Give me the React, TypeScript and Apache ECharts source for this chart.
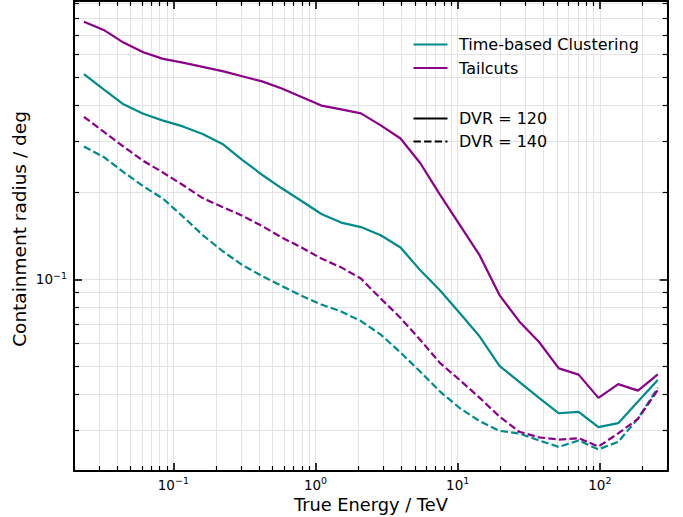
import React, { useEffect, useRef } from 'react';
import * as echarts from 'echarts';

// True energy bin centres (TeV)
const energy = [
  0.02348, 0.03234, 0.04457, 0.06141, 0.08461, 0.1166, 0.1606, 0.2213, 0.3049, 0.4201,
  0.5789, 0.7976, 1.099, 1.514, 2.086, 2.875, 3.961, 5.458, 7.52, 10.36,
  14.28, 19.67, 27.1, 37.35, 51.45, 70.9, 97.68, 134.6, 185.4, 255.5,
];

// Containment radius (deg)
const tbcDvr120 = [
  0.513, 0.454, 0.403, 0.374, 0.354, 0.338, 0.318, 0.294, 0.259, 0.23,
  0.2065, 0.1866, 0.1683, 0.1571, 0.1516, 0.142, 0.1288, 0.1074, 0.0915, 0.0763,
  0.0634, 0.0502, 0.0442, 0.0389, 0.0344, 0.0348, 0.0308, 0.0318, 0.0378, 0.0448,
];
const tailcutsDvr120 = [
  0.7785, 0.729, 0.659, 0.61, 0.579, 0.562, 0.543, 0.525, 0.504, 0.484,
  0.457, 0.427, 0.399, 0.387, 0.375, 0.341, 0.307, 0.252, 0.196, 0.154,
  0.121, 0.0882, 0.0715, 0.0607, 0.0492, 0.0468, 0.0389, 0.0434, 0.0412, 0.0469,
];
const tbcDvr140 = [
  0.288, 0.265, 0.235, 0.21, 0.19, 0.165, 0.1423, 0.1253, 0.1121, 0.1027,
  0.0948, 0.0877, 0.0818, 0.0774, 0.0717, 0.0644, 0.0558, 0.0479, 0.0409, 0.0358,
  0.0323, 0.0299, 0.0293, 0.0277, 0.0263, 0.0277, 0.0258, 0.0274, 0.033, 0.0421,
];
const tailcutsDvr140 = [
  0.365, 0.324, 0.288, 0.257, 0.234, 0.212, 0.191, 0.178, 0.166, 0.153,
  0.1395, 0.1288, 0.118, 0.11, 0.1006, 0.0858, 0.0735, 0.0617, 0.0513, 0.0448,
  0.0389, 0.0335, 0.0297, 0.0284, 0.0279, 0.0282, 0.0264, 0.0293, 0.0329, 0.0414,
];

// Tick positions
const xMajorTicks = [0.1, 1, 10, 100];
const xMinorTicks = [
  0.02, 0.03, 0.04, 0.05, 0.06, 0.07, 0.08, 0.09,
  0.2, 0.3, 0.4, 0.5, 0.6, 0.7, 0.8, 0.9,
  2, 3, 4, 5, 6, 7, 8, 9,
  20, 30, 40, 50, 60, 70, 80, 90,
  200, 300,
];
const yMajorTicks = [0.1];
const yMinorTicks = [
  0.03, 0.04, 0.05, 0.06, 0.07, 0.08, 0.09,
  0.2, 0.3, 0.4, 0.5, 0.6, 0.7, 0.8, 0.9,
];

const xRange = [0.02, 300];
const yRange = [0.02172, 0.918];

const TEAL = '#008b8b';
const PURPLE = '#8b008b';
const FONT = '"DejaVu Sans", sans-serif';
const GRID_COLOR = '#e4e4e4';
const DASH = [7.4, 3.2];

const legendEntries = [
  { label: 'Time-based Clustering', color: TEAL, dash: false, y: 44.5 },
  { label: 'Tailcuts', color: PURPLE, dash: false, y: 68 },
  { label: 'DVR = 120', color: '#000', dash: false, y: 118.5 },
  { label: 'DVR = 140', color: '#000', dash: true, y: 141.5 },
];

const powLabel = (v: number) => {
  const e = Math.round(Math.log10(v));
  const s = e < 0 ? '\u2212' + Math.abs(e) : String(e);
  return `{b|10}{s|${s}}`;
};

const rich = {
  b: { fontSize: 13.5, fontFamily: FONT, color: '#000', verticalAlign: 'middle' },
  s: { fontSize: 9.5, fontFamily: FONT, color: '#000', verticalAlign: 'middle', padding: [0, 0, 8.5, 0] },
};

function makeAxis(kind: 'x' | 'y', position: string, major: boolean, withLabel: boolean, extra: any = {}) {
  const range = kind === 'x' ? xRange : yRange;
  const ticks = kind === 'x' ? (major ? xMajorTicks : xMinorTicks) : (major ? yMajorTicks : yMinorTicks);
  return {
    type: 'log',
    logBase: 10,
    gridIndex: 0,
    position,
    min: range[0],
    max: range[1],
    nameMoveOverlap: false,
    axisLine: { show: major, onZero: false, lineStyle: { color: '#000', width: 2 } },
    axisTick: {
      show: true,
      inside: true,
      length: major ? 8 : 5,
      customValues: ticks,
      lineStyle: { color: '#000', width: major ? 1.6 : 1.2 },
    },
    minorTick: { show: false },
    minorSplitLine: { show: false },
    splitLine: {
      show: withLabel || (!major && (position === 'bottom' || position === 'left')),
      lineStyle: { color: GRID_COLOR, width: 1 },
    },
    axisLabel: withLabel
      ? {
          show: true,
          customValues: ticks,
          formatter: powLabel,
          fontSize: 13.5,
          fontFamily: FONT,
          color: '#000',
          rich,
          margin: kind === 'x' ? 4.5 : 7,
        }
      : { show: false },
    axisPointer: { show: false },
    ...extra,
  };
}

export default function App() {
  const ref = useRef<HTMLDivElement>(null);

  useEffect(() => {
    document.body.style.margin = '0';
    if (!ref.current) return;
    const chart = echarts.init(ref.current, undefined, { renderer: 'svg' });

    const seriesDefs = [
      { name: 'Time-based Clustering, DVR = 120', data: tbcDvr120, color: TEAL, dash: false },
      { name: 'Tailcuts, DVR = 120', data: tailcutsDvr120, color: PURPLE, dash: false },
      { name: 'Time-based Clustering, DVR = 140', data: tbcDvr140, color: TEAL, dash: true },
      { name: 'Tailcuts, DVR = 140', data: tailcutsDvr140, color: PURPLE, dash: true },
    ];

    const graphics: any[] = [];
    legendEntries.forEach((e) => {
      graphics.push({
        type: 'line',
        shape: { x1: 413.5, y1: e.y, x2: 447.5, y2: e.y },
        style: { stroke: e.color, lineWidth: 2, lineDash: e.dash ? DASH : null },
        z: 10,
      });
      graphics.push({
        type: 'text',
        x: 459,
        y: e.y,
        style: {
          text: e.label,
          fontSize: 16,
          fontFamily: FONT,
          fill: '#000',
          align: 'left',
          verticalAlign: 'middle',
        },
        z: 10,
      });
    });

    chart.setOption({
      animation: false,
      backgroundColor: '#fff',
      grid: {
        left: 74,
        right: 15.3,
        top: 1,
        bottom: 46,
        containLabel: false,
        outerBoundsMode: 'none',
      },
      xAxis: [
        makeAxis('x', 'bottom', true, true, {
          name: 'True Energy / TeV',
          nameLocation: 'middle',
          nameGap: 26.5,
          nameTextStyle: { fontSize: 17.8, lineHeight: 14, fontFamily: FONT, color: '#000' },
        }),
        makeAxis('x', 'bottom', false, false),
        makeAxis('x', 'top', true, false),
        makeAxis('x', 'top', false, false),
      ],
      yAxis: [
        makeAxis('y', 'left', true, true, {
          name: 'Containment radius / deg',
          nameLocation: 'middle',
          nameGap: 45,
          nameTextStyle: { fontSize: 18.5, fontFamily: FONT, color: '#000', padding: [0, 0, 0, 14] },
        }),
        makeAxis('y', 'left', false, false),
        makeAxis('y', 'right', true, false),
        makeAxis('y', 'right', false, false),
      ],
      series: seriesDefs.map((s) => ({
        name: s.name,
        type: 'line',
        xAxisIndex: 0,
        yAxisIndex: 0,
        data: energy.map((e, i) => [e, s.data[i]]),
        showSymbol: false,
        symbol: 'none',
        clip: true,
        lineStyle: { color: s.color, width: 2.2, type: s.dash ? DASH : 'solid' },
        z: 3,
      })),
      graphic: graphics,
    });

    return () => {
      chart.dispose();
    };
  }, []);

  return <div ref={ref} style={{ width: 683, height: 517 }} />;
}
